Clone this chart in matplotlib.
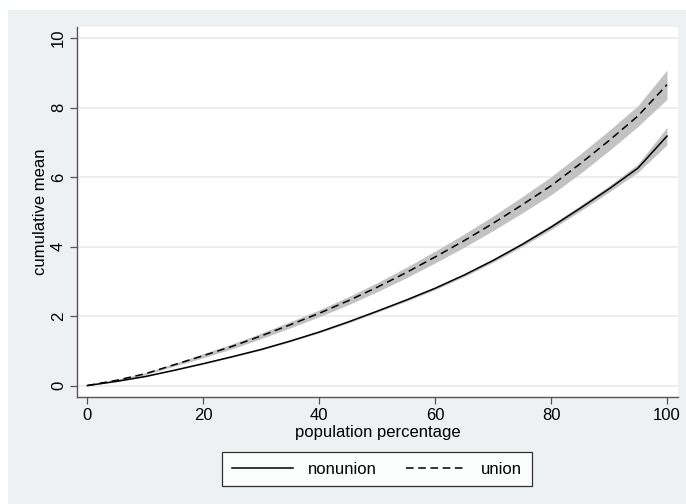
import matplotlib
matplotlib.use("Agg")
import matplotlib.pyplot as plt
from matplotlib.patches import Rectangle

plt.rcParams['font.family'] = ['Liberation Sans', 'DejaVu Sans']

# population percentage (x) and cumulative mean for each group
pct = [0, 5, 10, 15, 20, 25, 30, 35, 40, 45, 50, 55, 60, 65, 70, 75, 80, 85, 90, 95, 100]
nonunion = [0, 0.12, 0.26, 0.44, 0.63, 0.83, 1.04, 1.28, 1.54, 1.83, 2.14, 2.46, 2.80,
            3.18, 3.60, 4.06, 4.56, 5.10, 5.66, 6.26, 7.18]
union = [0, 0.15, 0.34, 0.60, 0.86, 1.13, 1.43, 1.75, 2.08, 2.44, 2.83, 3.25, 3.70,
         4.17, 4.67, 5.20, 5.75, 6.38, 7.05, 7.76, 8.66]
# half width of the confidence bands
nonunion_ci = [0, 0.01, 0.01, 0.01, 0.015, 0.015, 0.02, 0.02, 0.025, 0.03, 0.03, 0.035, 0.04,
               0.045, 0.05, 0.06, 0.07, 0.08, 0.09, 0.12, 0.25]
union_ci = [0, 0.02, 0.03, 0.04, 0.06, 0.07, 0.08, 0.09, 0.10, 0.115, 0.13, 0.15, 0.17,
            0.19, 0.21, 0.235, 0.26, 0.28, 0.29, 0.30, 0.42]

W, H = 686, 504
fig = plt.figure(figsize=(W / 100, H / 100), dpi=100, facecolor='white')
bg = '#eef1f1'
fig.patches.append(Rectangle((8 / W, 0), 1 - 8 / W, 1 - 10 / H, transform=fig.transFigure,
                             facecolor=bg, edgecolor='none', zorder=-5))

ax = fig.add_axes([77 / W, 1 - 397 / H, (678 - 77) / W, (397 - 27) / H])
ax.set_facecolor('white')

band = '#c2c2c2'
ax.fill_between(pct, [u - c for u, c in zip(union, union_ci)],
                [u + c for u, c in zip(union, union_ci)], color=band, lw=0, zorder=2)
ax.fill_between(pct, [n - c for n, c in zip(nonunion, nonunion_ci)],
                [n + c for n, c in zip(nonunion, nonunion_ci)], color=band, lw=0, zorder=2)
ax.plot(pct, nonunion, color='black', lw=1.1, label='nonunion', zorder=3)
ax.plot(pct, union, color='black', lw=1.1, dashes=(5, 3), label='union', zorder=3)

ax.set_xlim(-1.8, 101.9)
ax.set_ylim(-0.33, 10.32)
ax.set_xticks([0, 20, 40, 60, 80, 100])
ax.set_yticks([0, 2, 4, 6, 8, 10])
ax.grid(axis='y', color='#eaeaea', lw=1.2, zorder=1)
ax.set_axisbelow(True)

for s in ['top', 'right']:
    ax.spines[s].set_visible(False)
for s in ['left', 'bottom']:
    ax.spines[s].set_color('#555555')
    ax.spines[s].set_linewidth(1.0)
ax.tick_params(direction='out', length=5, width=0.9, color='#555555', labelsize=12, pad=3)
for t in ax.get_yticklabels():
    t.set_rotation(90)
    t.set_va('center')

ax.set_xlabel('population percentage', fontsize=12, labelpad=1)
ax.set_ylabel('cumulative mean', fontsize=12, labelpad=2)

leg = fig.legend(loc='center', bbox_to_anchor=(377 / W, 1 - 469 / H), ncol=2, fontsize=12,
                 frameon=True, fancybox=False, edgecolor='black', handlelength=3.7,
                 columnspacing=1.75, handletextpad=0.85, borderpad=0.55)
leg.get_frame().set_linewidth(0.9)

fig.savefig('out.png', dpi=100, facecolor='white')
